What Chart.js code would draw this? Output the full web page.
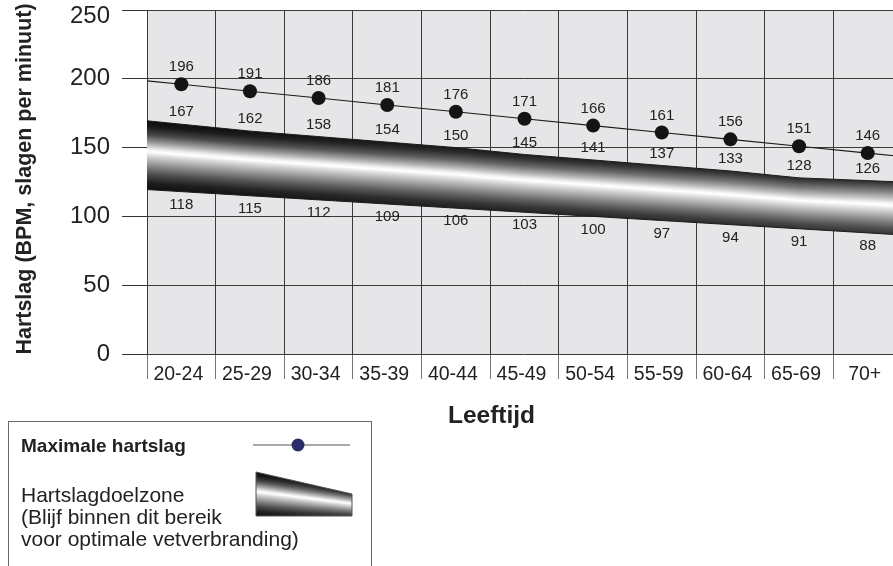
<!DOCTYPE html>
<html lang="nl">
<head>
<meta charset="utf-8">
<title>Hartslag per leeftijd</title>
<script src="https://cdn.jsdelivr.net/npm/chart.js@4.4.1/dist/chart.umd.min.js"></script>
<style>
  html, body { margin: 0; padding: 0; background: #fff; width: 893px; height: 566px; overflow: hidden; }
  #wrap { position: absolute; left: 0; top: 0; width: 910px; height: 440px; }
  #legend {
    position: absolute; left: 8px; top: 421px; width: 364px; height: 170px;
    border: 1.5px solid #6a6a6a; box-sizing: border-box;
    font-family: "Liberation Sans", Arial, sans-serif; color: #222;
  }
  #legend .max { position: absolute; left: 12px; top: 13px; font-size: 19px; line-height: 22px; font-weight: bold; white-space: nowrap; }
  #legend .zone { position: absolute; left: 12px; top: 62px; font-size: 21px; line-height: 22px; white-space: nowrap; }
  #icons { position: absolute; left: 0; top: 0; }
  #zoneIcon { position: absolute; left: 255px; top: 471px; }
</style>
</head>
<body>
<div id="wrap"><canvas id="chart" width="910" height="440"></canvas></div>
<div id="legend">
  <div class="max">Maximale hartslag</div>
  <div class="zone">Hartslagdoelzone<br>(Blijf binnen dit bereik<br>voor optimale vetverbranding)</div>
</div>
<svg id="icons" width="893" height="566" viewBox="0 0 893 566">
  <line x1="253" y1="445" x2="350" y2="445" stroke="#555" stroke-width="1"/>
  <circle cx="298" cy="445" r="6.5" fill="#2b2d6b"/>
</svg>
<canvas id="zoneIcon" width="99" height="47"></canvas>
<script>
// Leeftijdsgroepen en hartslagwaarden (slagen per minuut)
const leeftijden = ['20-24', '25-29', '30-34', '35-39', '40-44', '45-49', '50-54', '55-59', '60-64', '65-69', '70+'];
const maxHartslag = [196, 191, 186, 181, 176, 171, 166, 161, 156, 151, 146];
const zoneBoven = [167, 162, 158, 154, 150, 145, 141, 137, 133, 128, 126];
const zoneOnder = [118, 115, 112, 109, 106, 103, 100, 97, 94, 91, 88];
const yTickWaarden = [0, 50, 100, 150, 200, 250];

const FONT = '"Liberation Sans", Arial, Helvetica, sans-serif';
const TEXT = '#222';
const GRID = '#3a3a3a';
const Y_MAX = yTickWaarden[yTickWaarden.length - 1];

// Grijswaarden van de band (positie binnen de band, links, rechts)
const bandStops = [
  [0.00, 12, 45],
  [0.08, 22, 80],
  [0.20, 70, 135],
  [0.32, 160, 195],
  [0.41, 238, 245],
  [0.45, 255, 255],
  [0.51, 215, 228],
  [0.63, 150, 180],
  [0.77, 80, 125],
  [0.90, 30, 80],
  [1.00, 15, 55]
];

// Vult een band kolom voor kolom met een verticaal verloop
function tekenBand(ctx, xL, xR, boven, onder) {
  for (let x = Math.floor(xL); x < Math.ceil(xR); x++) {
    const yt = boven(x + 0.5), yb = onder(x + 0.5);
    const t = (x - xL) / (xR - xL);
    const g = ctx.createLinearGradient(0, yt, 0, yb);
    bandStops.forEach(([pos, l, r]) => {
      const v = Math.round(l + (r - l) * t);
      g.addColorStop(pos, `rgb(${v},${v},${v})`);
    });
    ctx.fillStyle = g;
    ctx.fillRect(x, yt, 1, yb - yt);
  }
}

// Lineaire inter-/extrapolatie over de punten van een dataset
function yOpX(pts, x) {
  let i = 0;
  if (x >= pts[pts.length - 1].x) i = pts.length - 2;
  else if (x > pts[0].x) { while (pts[i + 1].x < x) i++; }
  const a = pts[i], b = pts[i + 1];
  return a.y + (b.y - a.y) * (x - a.x) / (b.x - a.x);
}

const achtergrond = {
  id: 'achtergrond',
  beforeDraw(chart) {
    const { ctx, chartArea: a } = chart;
    ctx.save();
    ctx.fillStyle = '#e6e6e8';
    ctx.fillRect(a.left, a.top, a.right - a.left, a.bottom - a.top);
    ctx.restore();
  }
};

const doelzone = {
  id: 'doelzone',
  beforeDatasetsDraw(chart) {
    const { ctx, chartArea: a } = chart;
    const boven = chart.getDatasetMeta(1).data.map(p => ({ x: p.x, y: p.y }));
    const onder = chart.getDatasetMeta(2).data.map(p => ({ x: p.x, y: p.y }));
    const maxPts = chart.getDatasetMeta(0).data.map(p => ({ x: p.x, y: p.y }));
    ctx.save();
    ctx.beginPath();
    ctx.rect(a.left, a.top, a.right - a.left, a.bottom - a.top);
    ctx.clip();
    tekenBand(ctx, a.left, a.right, x => yOpX(boven, x), x => yOpX(onder, x));
    // randen van de band
    ctx.strokeStyle = '#1c1c1c';
    ctx.lineWidth = 1;
    [boven, onder].forEach(pts => {
      ctx.beginPath();
      ctx.moveTo(a.left, yOpX(pts, a.left));
      pts.forEach(p => ctx.lineTo(p.x, p.y));
      ctx.lineTo(a.right, yOpX(pts, a.right));
      ctx.stroke();
    });
    // verlenging van de maximale-hartslaglijn tot de randen van het plotvlak
    const n = maxPts.length;
    ctx.strokeStyle = '#1a1a1a';
    ctx.lineWidth = 1.1;
    ctx.beginPath();
    ctx.moveTo(a.left, yOpX(maxPts, a.left));
    ctx.lineTo(maxPts[0].x, maxPts[0].y);
    ctx.moveTo(maxPts[n - 1].x, maxPts[n - 1].y);
    ctx.lineTo(a.right, yOpX(maxPts, a.right));
    ctx.stroke();
    ctx.restore();
  }
};

const waardeLabels = {
  id: 'waardeLabels',
  afterDatasetsDraw(chart) {
    const { ctx } = chart;
    ctx.save();
    ctx.font = '15px ' + FONT;
    ctx.fillStyle = TEXT;
    ctx.textAlign = 'center';
    ctx.textBaseline = 'middle';
    [[0, -17], [1, -12], [2, 13]].forEach(([ds, dy]) => {
      const vals = chart.data.datasets[ds].data;
      chart.getDatasetMeta(ds).data.forEach((p, i) => {
        ctx.fillText(String(vals[i]), p.x, p.y + dy);
      });
    });
    ctx.restore();
  }
};

const asTitels = {
  id: 'asTitels',
  afterDraw(chart) {
    const { ctx } = chart;
    ctx.save();
    ctx.fillStyle = TEXT;
    ctx.textAlign = 'center';
    ctx.textBaseline = 'alphabetic';
    ctx.font = 'bold 24.5px ' + FONT;
    ctx.fillText('Leeftijd', 491.5, 423);
    ctx.translate(31, 179);
    ctx.rotate(-Math.PI / 2);
    ctx.font = 'bold 21.5px ' + FONT;
    ctx.fillText('Hartslag (BPM, slagen per minuut)', 0, 0);
    ctx.restore();
  }
};

new Chart(document.getElementById('chart'), {
  type: 'line',
  data: {
    labels: leeftijden,
    datasets: [
      {
        label: 'Maximale hartslag',
        data: maxHartslag,
        borderColor: '#1a1a1a',
        borderWidth: 1.1,
        pointRadius: 7,
        pointHoverRadius: 7,
        pointBackgroundColor: '#141414',
        pointBorderWidth: 0,
        tension: 0
      },
      {
        label: 'Hartslagdoelzone boven',
        data: zoneBoven,
        showLine: false,
        pointRadius: 0,
        pointHoverRadius: 0
      },
      {
        label: 'Hartslagdoelzone onder',
        data: zoneOnder,
        showLine: false,
        pointRadius: 0,
        pointHoverRadius: 0
      }
    ]
  },
  options: {
    responsive: false,
    animation: false,
    events: [],
    layout: { padding: { top: 10, right: 8, bottom: 0, left: 0 } },
    plugins: { legend: { display: false }, tooltip: { enabled: false } },
    scales: {
      x: {
        type: 'category',
        offset: true,
        grid: { offset: true, color: GRID, lineWidth: 1, tickLength: 25, tickColor: '#777' },
        border: { display: false },
        ticks: {
          color: TEXT, font: { family: FONT, size: 19.5 },
          padding: -16, labelOffset: -3, maxRotation: 0, autoSkip: false
        },
        afterFit(s) { s.height = 86; s.paddingLeft = 0; s.paddingRight = 0; }
      },
      y: {
        min: 0,
        max: Y_MAX,
        afterBuildTicks(s) { s.ticks = yTickWaarden.map(v => ({ value: v })); },
        grid: { color: GRID, lineWidth: 1, tickLength: 25, tickColor: '#333' },
        border: { display: false },
        ticks: {
          color: TEXT,
          padding: 12,
          // het bovenste label iets omlaag, zodat het binnen het canvas valt
          font: c => (c.tick && c.tick.value === Y_MAX)
            ? { family: FONT, size: 24, lineHeight: 0.5 }
            : { family: FONT, size: 24 },
          callback: v => (v === Y_MAX ? ['', String(v)] : String(v))
        },
        afterFit(s) { s.width = 147; s.paddingTop = 0; s.paddingBottom = 0; }
      }
    }
  },
  plugins: [achtergrond, doelzone, waardeLabels, asTitels]
});

// Legendasymbool van de doelzone: een taps toelopende band
(function () {
  const c = document.getElementById('zoneIcon');
  const ctx = c.getContext('2d');
  const xL = 1, xR = 97, yTopL = 1, yTopR = 23, yBot = 45;
  const boven = x => yTopL + (yTopR - yTopL) * (x - xL) / (xR - xL);
  tekenBand(ctx, xL, xR, boven, () => yBot);
  ctx.strokeStyle = '#555';
  ctx.lineWidth = 1;
  ctx.beginPath();
  ctx.moveTo(xL, yTopL); ctx.lineTo(xR, yTopR); ctx.lineTo(xR, yBot); ctx.lineTo(xL, yBot);
  ctx.closePath();
  ctx.stroke();
})();
</script>
</body>
</html>
